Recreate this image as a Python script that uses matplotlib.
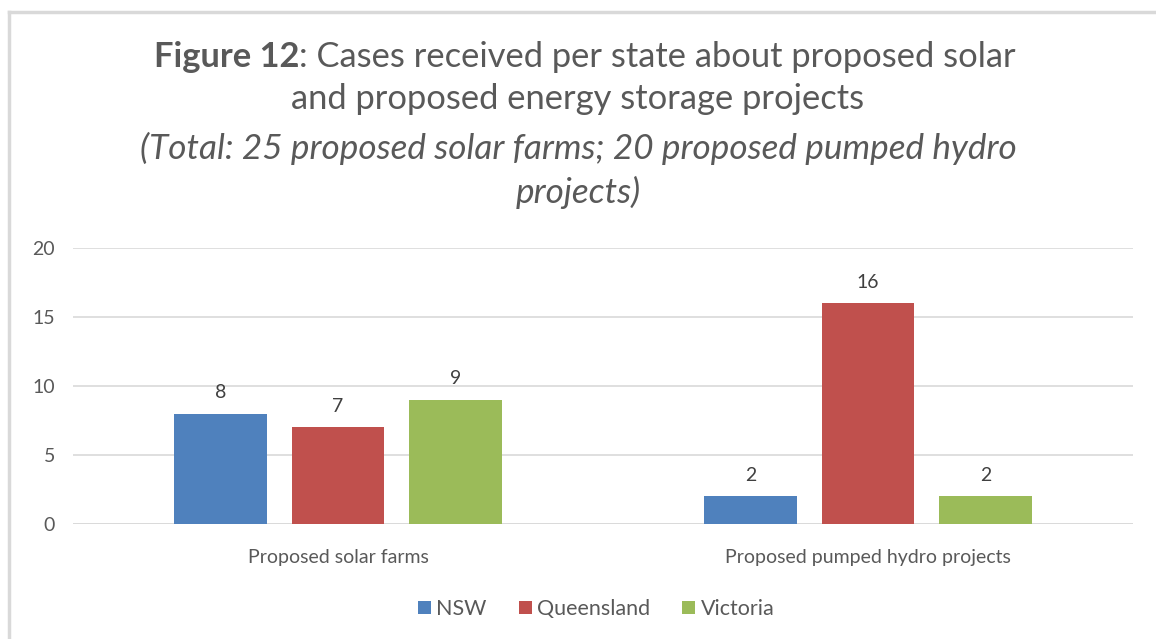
import matplotlib
matplotlib.use("Agg")
import matplotlib.pyplot as plt
from matplotlib.patches import Patch
from matplotlib.lines import Line2D

categories = ["Proposed solar farms", "Proposed pumped hydro projects"]
series_names = ["NSW", "Queensland", "Victoria"]
nsw = [8, 2]
queensland = [7, 16]
victoria = [9, 2]
colors = ["#4F81BD", "#C0504D", "#9BBB59"]
yticks = [0, 5, 10, 15, 20]

plt.rcParams['font.family'] = ['Lato', 'DejaVu Sans']
W, H = 1156, 639
fig = plt.figure(figsize=(W/100, H/100), dpi=100)
fig.patch.set_facecolor("white")

# outer border (left and top visible)
fig.add_artist(Line2D([9/W, 9/W], [0, 1-12/H], color="#D9D9D9", lw=2.5, transform=fig.transFigure))
fig.add_artist(Line2D([9/W, 1], [1-12/H, 1-12/H], color="#D9D9D9", lw=2.5, transform=fig.transFigure))

left, right = 73, 1133
top, bottom = 248, 524
ax = fig.add_axes([left/W, 1-bottom/H, (right-left)/W, (bottom-top)/H])
ax.set_xlim(-0.5, 1.5)
ax.set_ylim(0, 20)

series = [nsw, queensland, victoria]
step = 0.222
width = 0.175
for j, (vals, name, c) in enumerate(zip(series, series_names, colors)):
    xs = [i + (j-1)*step for i in range(len(categories))]
    ax.bar(xs, vals, width=width, color=c, label=name, zorder=3)
    for x, v in zip(xs, vals):
        ax.text(x, v + 0.9, str(v), ha="center", va="bottom", fontsize=14, color="#404040")

ax.set_yticks(yticks)
ax.set_yticklabels([str(t) for t in yticks], fontsize=14, color="#595959")
ax.set_xticks(range(len(categories)))
ax.set_xticklabels(categories, fontsize=14, color="#595959")
ax.tick_params(axis="both", length=0)
ax.tick_params(axis="y", pad=13)
ax.tick_params(axis="x", pad=18)
ax.grid(axis="y", color="#D9D9D9", lw=1.2, zorder=0)
for s in ax.spines.values():
    s.set_visible(False)
ax.axhline(0, color="#D9D9D9", lw=1.2, zorder=2)

# title
tc = "#595959"
renderer = fig.canvas.get_renderer()
y1 = 1-57/H
t_b = fig.text(0, y1, "Figure 12", ha="left", va="center", fontsize=24.8, color=tc, fontweight="bold")
t_r = fig.text(0, y1, ": Cases received per state about proposed solar", ha="left", va="center", fontsize=24.8, color=tc)
wb = t_b.get_window_extent(renderer).width
wr = t_r.get_window_extent(renderer).width
x0 = (W - (wb + wr)) / 2 + 7
t_b.set_x(x0 / W)
t_r.set_x((x0 + wb) / W)
fig.text(0.5, 1-99/H, "and proposed energy storage projects",
         ha="center", va="center", fontsize=24.8, color=tc)
fig.text(0.5, 1-148/H, "(Total: 25 proposed solar farms; 20 proposed pumped hydro",
         ha="center", va="center", fontsize=25.3, color=tc, style="italic")
fig.text(0.5, 1-192/H, "projects)",
         ha="center", va="center", fontsize=25.3, color=tc, style="italic")

handles = [Patch(facecolor=c, label=n) for c, n in zip(colors, series_names)]
fig.legend(handles=handles, loc="center", bbox_to_anchor=(596/W, 1-609/H), ncol=3,
           frameon=False, fontsize=15.5, handlelength=0.6, handleheight=0.6,
           handletextpad=0.25, columnspacing=1.5, labelcolor="#595959")

fig.savefig("out.png", dpi=100, facecolor="white")
